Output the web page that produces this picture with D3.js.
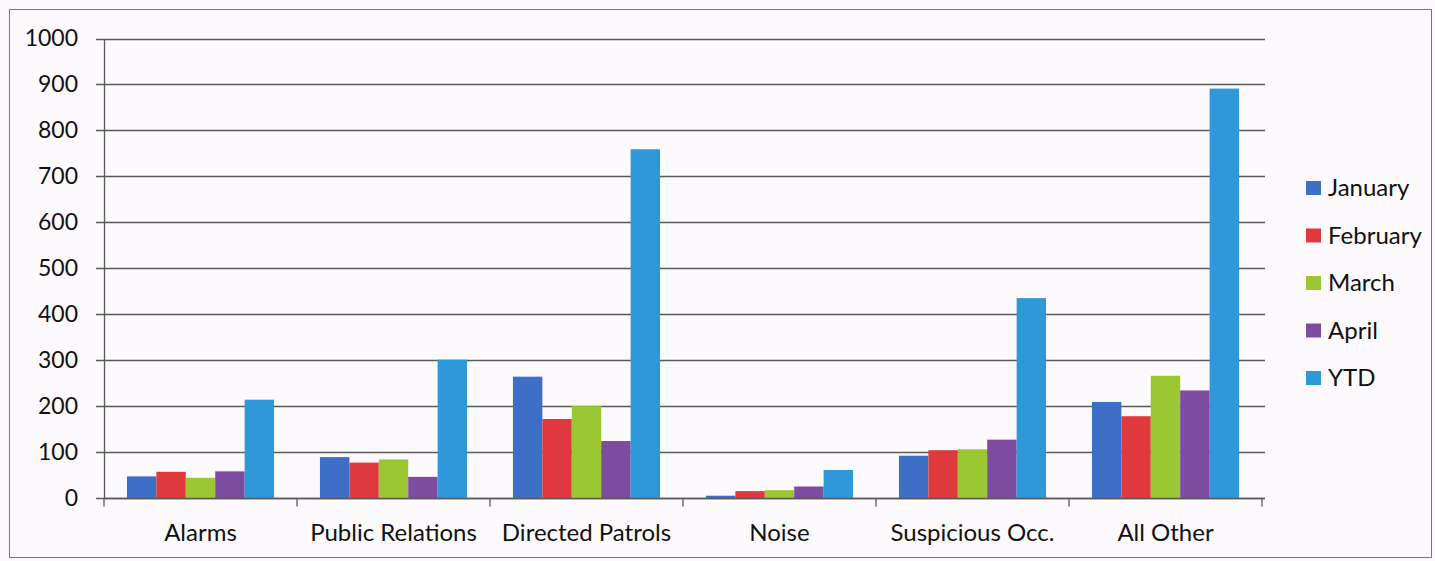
<!DOCTYPE html>
<html>
<head>
<meta charset="utf-8">
<script src="https://cdn.jsdelivr.net/npm/d3@7/dist/d3.min.js"></script>
<style>
  body { margin: 0; background: #fcfafc; }
  text { font-family: Lato, "Open Sans", sans-serif; fill: #111; }
</style>
</head>
<body>
<svg id="chart"></svg>
<script>
// categories and series
const categories = ['Alarms', 'Public Relations', 'Directed Patrols', 'Noise', 'Suspicious Occ.', 'All Other'];
const seriesNames = ['January', 'February', 'March', 'April', 'YTD'];
const january  = [47, 89, 264, 5, 92, 209];
const february = [57, 77, 172, 15, 104, 178];
const march    = [44, 84, 200, 17, 106, 266];
const april    = [58, 46, 124, 25, 127, 234];
const ytd      = [214, 301, 759, 61, 435, 891];
const yTicks = [0, 100, 200, 300, 400, 500, 600, 700, 800, 900, 1000];

const seriesValues = [january, february, march, april, ytd];
const colors = ['#3d6fc6', '#e0393d', '#9ac732', '#7d4b9f', '#2f98d8'];

const W = 1435, H = 561;
const svg = d3.select('#chart').attr('width', W).attr('height', H);

// frame
svg.append('rect')
    .attr('x', 9.5).attr('y', 9.5)
    .attr('width', 1422).attr('height', 548)
    .attr('fill', '#fcfafc')
    .attr('stroke', '#777').attr('stroke-width', 1);

const plot = { left: 104, right: 1262, top: 38.5, bottom: 498 };

const x0 = d3.scaleBand()
    .domain(categories)
    .range([plot.left, plot.right])
    .paddingInner(0);

const x1 = d3.scaleBand()
    .domain(seriesNames)
    .range([0, x0.bandwidth()])
    .paddingInner(0)
    .paddingOuter(0.78);

const y = d3.scaleLinear()
    .domain([0, 1000])
    .range([plot.bottom, plot.top]);

// gridlines
svg.append('g')
    .selectAll('line')
    .data(yTicks)
    .enter()
    .append('line')
    .attr('x1', plot.left - 8)
    .attr('x2', plot.right + 3)
    .attr('y1', d => Math.round(y(d)) + 0.5)
    .attr('y2', d => Math.round(y(d)) + 0.5)
    .attr('stroke', '#5a5a5a')
    .attr('stroke-width', 1.3);

// bars
const groups = svg.append('g')
    .selectAll('g')
    .data(categories)
    .enter()
    .append('g')
    .attr('transform', d => `translate(${x0(d)},0)`);

groups.selectAll('rect')
    .data((d, i) => seriesNames.map((s, j) => ({ series: s, value: seriesValues[j][i], color: colors[j] })))
    .enter()
    .append('rect')
    .attr('x', d => x1(d.series))
    .attr('y', d => y(d.value))
    .attr('width', x1.bandwidth())
    .attr('height', d => plot.bottom - y(d.value))
    .attr('fill', d => d.color);

// y axis
const yAxis = d3.axisLeft(y)
    .tickValues(yTicks)
    .tickFormat(d3.format('d'))
    .tickSize(0)
    .tickPadding(26);

const gy = svg.append('g')
    .attr('transform', `translate(${plot.left},0)`)
    .call(yAxis);
gy.select('.domain').attr('stroke', '#5a5a5a').attr('stroke-width', 1.3);
gy.selectAll('text').style('font-size', '23px').attr('fill', '#111');

// x axis
const gx = svg.append('g')
    .attr('transform', `translate(0,${Math.round(plot.bottom) + 0.5})`);
gx.append('line')
    .attr('x1', plot.left).attr('x2', plot.right + 3)
    .attr('stroke', '#5a5a5a').attr('stroke-width', 1.3);
gx.selectAll('line.tick')
    .data(categories.map(c => x0(c)).concat([plot.right]))
    .enter()
    .append('line')
    .attr('class', 'tick')
    .attr('x1', d => d).attr('x2', d => d)
    .attr('y1', 0).attr('y2', 8)
    .attr('stroke', '#5a5a5a').attr('stroke-width', 1.3);
gx.selectAll('text')
    .data(categories)
    .enter()
    .append('text')
    .attr('x', d => x0(d) + x0.bandwidth() / 2)
    .attr('y', 42)
    .attr('text-anchor', 'middle')
    .style('font-size', '24px')
    .text(d => d);

// legend
const legend = svg.append('g')
    .selectAll('g')
    .data(seriesNames)
    .enter()
    .append('g')
    .attr('transform', (d, i) => `translate(1306,${188 + i * 47.5})`);
legend.append('rect')
    .attr('x', 0).attr('y', -7)
    .attr('width', 15).attr('height', 14)
    .attr('fill', (d, i) => colors[i]);
legend.append('text')
    .attr('x', 22).attr('y', 0)
    .attr('dy', '0.35em')
    .style('font-size', '24px')
    .text(d => d);
</script>
</body>
</html>
